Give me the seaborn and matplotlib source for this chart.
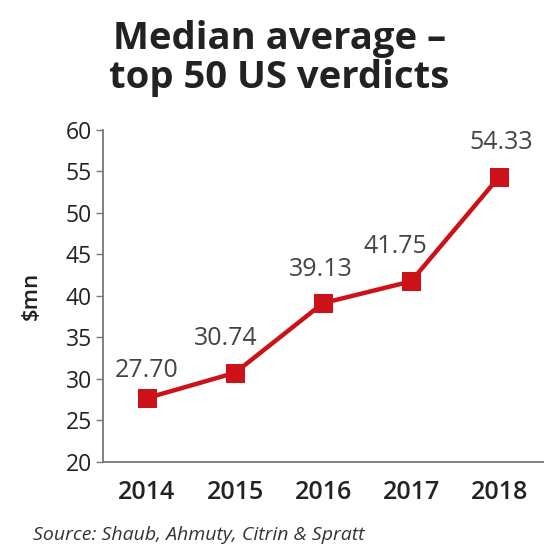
import matplotlib
matplotlib.use("Agg")
import matplotlib.pyplot as plt
import seaborn as sns
import pandas as pd

years = ["2014", "2015", "2016", "2017", "2018"]
values = [27.70, 30.74, 39.13, 41.75, 54.33]
labels = ["27.70", "30.74", "39.13", "41.75", "54.33"]
yticks = [20, 25, 30, 35, 40, 45, 50, 55, 60]

sns.set_theme(style="white")
plt.rcParams["font.family"] = ["Open Sans", "DejaVu Sans"]

df = pd.DataFrame({"year": years, "value": values})

fig = plt.figure(figsize=(5.48, 5.5), dpi=100)
ax = fig.add_axes([0.188, 0.16, 0.803, 0.604])

red = "#cc1218"
sns.lineplot(data=df, x="year", y="value", ax=ax, color=red, linewidth=3.2,
             marker="s", markersize=13, markeredgecolor=red, markerfacecolor=red,
             sort=False)

ax.set_xlim(-0.5, 4.5)
ax.set_ylim(20, 60)
ax.set_yticks(yticks)
ax.set_yticklabels([str(t) for t in yticks])
ax.tick_params(axis="y", which="both", left=True, length=5, width=1, color="#777777",
               labelsize=16.5, labelcolor="#222222", pad=3)
ax.tick_params(axis="x", bottom=False, labelsize=18, labelcolor="#222222", pad=7)
for lab in ax.get_xticklabels():
    lab.set_fontweight("semibold")

for s in ["top", "right"]:
    ax.spines[s].set_visible(False)
for s in ["left", "bottom"]:
    ax.spines[s].set_color("#777777")
    ax.spines[s].set_linewidth(1.3)

ax.set_xlabel("")
ax.set_ylabel("$mn", fontsize=16, color="#222222", fontweight="semibold")
ax.yaxis.set_label_coords(-0.14, 0.5)

x_off = [0, -6.5, -1.5, -11, 1.5]
y_off = [19.5, 25, 24, 25, 24.5]
for i, (v, t) in enumerate(zip(values, labels)):
    ax.annotate(t, xy=(i, v), xytext=(x_off[i], y_off[i]),
                textcoords="offset points", ha="center", va="center",
                fontsize=18, color="#444444")

fig.text(0.51, 0.91, "Median average –", ha="center", va="baseline",
         fontsize=27.5, fontweight="bold", color="#222222")
fig.text(0.51, 0.84, "top 50 US verdicts", ha="center", va="baseline",
         fontsize=27.5, fontweight="bold", color="#222222")
fig.text(0.06, 0.018, "Source: Shaub, Ahmuty, Citrin & Spratt", ha="left", va="baseline",
         fontsize=14, fontstyle="italic", color="#333333")

fig.savefig("out.png", dpi=100, facecolor="white")
